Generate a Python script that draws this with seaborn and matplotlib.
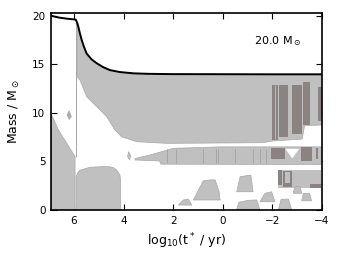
import numpy as np
import pandas as pd
import seaborn as sns
import matplotlib.pyplot as plt

# total (surface) mass of the star vs log10 of time left to collapse
surf_logt = [6.93, 6.63, 6.30, 6.10, 5.93, 5.87, 5.83, 5.76, 5.69, 5.60, 5.49, 5.29,
             5.08, 4.82, 4.55, 4.14, 3.60, 3.00, 2.10, 0.0, -2.0, -4.0]
surf_mass = [20.0, 19.82, 19.70, 19.65, 19.60, 19.24, 18.9, 18.15, 17.5, 16.8, 16.1, 15.5,
             15.1, 14.7, 14.4, 14.2, 14.07, 14.02, 13.99, 13.98, 13.97, 13.97]

# convective H-burning core (main sequence)
hcore_logt = [6.93, 6.93, 6.63, 6.29, 5.96, 5.96]
hcore_mass = [0.0, 9.95, 8.23, 6.87, 5.49, 0.0]

# convective He-burning core
hecore_logt = [5.92, 5.92, 5.85, 5.76, 5.35, 4.80, 4.55, 4.40, 4.28, 4.15, 4.12, 4.12]
hecore_mass = [0.0, 3.43, 3.85, 4.10, 4.40, 4.47, 4.45, 4.35, 4.10, 3.60, 3.00, 0.0]

# bottom of the convective envelope (top is the surface)
env_logt = [5.87, 5.87, 5.76, 5.49, 5.08, 4.68, 4.35, 4.08, 3.47, 2.26, -1.60, -2.00, -3.20, -3.30, -4.00]
env_mass = [19.24, 13.72, 13.38, 11.66, 10.63, 9.60, 8.23, 7.54, 7.03, 6.86, 6.93, 7.10, 7.30, 8.70, 8.75]

# dark (semiconvective) stripes inside the envelope
dark_env_left = [-1.97, -2.27, -2.78, -3.23, -3.84]
dark_env_right = [-2.21, -2.64, -3.18, -3.52, -3.99]
dark_env_bottom = [7.2, 7.5, 7.8, 8.8, 9.2]
dark_env_top = [12.9, 12.9, 12.9, 13.2, 12.7]

# intermediate shell (band at ~5-6.5 Msun)
band2_logt = [3.54, 2.94, 2.00, 0.10, -4.00, -4.00, 2.50, 2.55, 3.54]
band2_mass = [5.30, 5.66, 6.35, 6.50, 6.50, 4.68, 4.72, 5.05, 5.15]
dark_b2_left = [-1.95, -3.15, -3.75]
dark_b2_right = [-2.50, -3.60, -3.85]
dark_b2_bottom = [5.20, 5.00, 5.20]
dark_b2_top = [6.40, 6.45, 6.40]
hole_b2_logt = [-2.52, -3.08, -2.80]
hole_b2_mass = [6.30, 6.30, 5.30]

# deeper shell (~2.3-4.1 Msun), late phases
band3_left, band3_right = -2.24, -3.97
band3_bottom, band3_top = 2.30, 4.15
dark_b3_left = [-2.24, -2.42, -3.50]
dark_b3_right = [-2.40, -2.80, -3.97]
dark_b3_bottom = [2.60, 2.40, 2.30]
dark_b3_top = [4.15, 4.05, 2.70]
inner_b3_logt = [-2.50, -2.72]
inner_b3_mass = [2.80, 3.90]

# small shell burning episodes near the bottom
blob_a_logt = [1.19, 0.79, 0.50, 0.31, 0.15, 0.11]
blob_a_mass = [1.03, 3.00, 3.10, 3.10, 1.90, 1.03]
blob_b_logt = [-0.56, -0.70, -1.13, -1.22]
blob_b_mass = [1.88, 3.43, 3.60, 1.88]
blob_c_logt = [1.79, 1.59, 1.39, 1.25]
blob_c_mass = [0.51, 1.03, 1.13, 0.51]
blob_d_logt = [-0.55, -0.65, -1.03, -1.37, -1.50]
blob_d_mass = [0.00, 0.80, 1.00, 1.03, 0.00]
blob_e_logt = [-1.50, -1.70, -1.97, -2.10]
blob_e_mass = [0.85, 1.72, 1.88, 0.85]
blob_f_logt = [-2.24, -2.35, -2.65, -2.78]
blob_f_mass = [0.00, 1.10, 1.13, 0.00]
blob_g_logt = [-3.18, -3.25, -3.50, -3.58]
blob_g_mass = [0.95, 1.72, 1.72, 0.95]
blob_h_logt = [-2.84, -2.90, -3.12, -3.18]
blob_h_mass = [1.72, 2.40, 2.40, 1.72]
blob_i_logt = [3.84, 3.80, 3.72, 3.76]
blob_i_mass = [5.50, 6.00, 5.60, 5.15]
speck_logt = [6.30, 6.20, 6.09, 6.20]
speck_mass = [9.80, 10.30, 9.60, 9.25]

# faint vertical streaks in the middle shell
streak_logt = [2.25, 1.9, 0.8, 0.26, 0.2, -0.5, -1.2, -1.5, -1.75]

light = '#c0c0c0'
dark = '#8b8282'
edge = '#a8a8a8'

sns.set_style("ticks", {"xtick.direction": "in", "ytick.direction": "in",
                        "axes.edgecolor": "black", "text.color": "black",
                        "axes.labelcolor": "black", "xtick.color": "black",
                        "ytick.color": "black"})
plt.rcParams['font.family'] = ['DejaVu Sans']

fig = plt.figure(figsize=(3.39, 2.54), dpi=100)
ax = fig.add_axes([0.1504, 0.1732, 0.7994, 0.7744])

ax.fill(hcore_logt, hcore_mass, color=light, ec=edge, lw=0.5)
ax.fill(hecore_logt, hecore_mass, color=light, ec=edge, lw=0.5)

# envelope polygon: surface on top, base reversed underneath
top_x = [x for x in surf_logt if x <= 5.87]
top_y = [m for x, m in zip(surf_logt, surf_mass) if x <= 5.87]
ax.fill(top_x + env_logt[::-1], top_y + env_mass[::-1], color=light, ec=edge, lw=0.5)
for l, r, b, t in zip(dark_env_left, dark_env_right, dark_env_bottom, dark_env_top):
    ax.fill_between([l, r], b, t, color=dark, lw=0)
ax.vlines([-2.09], 7.3, 12.9, color=light, lw=0.6)

ax.fill(band2_logt, band2_mass, color=light, ec=edge, lw=0.5)
for l, r, b, t in zip(dark_b2_left, dark_b2_right, dark_b2_bottom, dark_b2_top):
    ax.fill_between([l, r], b, t, color=dark, lw=0)
ax.fill(hole_b2_logt, hole_b2_mass, color='white', lw=0)
ax.vlines(streak_logt, 4.8, 6.3, color='#a4a0a0', lw=0.6)

ax.fill_between([band3_left, band3_right], band3_bottom, band3_top, color=light, lw=0)
for l, r, b, t in zip(dark_b3_left, dark_b3_right, dark_b3_bottom, dark_b3_top):
    ax.fill_between([l, r], b, t, color=dark, lw=0)
ax.fill_between(inner_b3_logt, inner_b3_mass[0], inner_b3_mass[1], color=light, lw=0)

for bx, by in [(blob_a_logt, blob_a_mass), (blob_b_logt, blob_b_mass), (blob_c_logt, blob_c_mass),
               (blob_d_logt, blob_d_mass), (blob_e_logt, blob_e_mass), (blob_f_logt, blob_f_mass),
               (blob_g_logt, blob_g_mass), (blob_h_logt, blob_h_mass), (blob_i_logt, blob_i_mass)]:
    ax.fill(bx, by, color=light, ec=edge, lw=0.5)
ax.fill(speck_logt, speck_mass, color='#b0acac', lw=0)

# thin boundary line left over from the end of core H burning
ax.vlines([5.93], 5.5, 19.6, color=edge, lw=0.7)

sns.lineplot(x=surf_logt, y=surf_mass, color='k', lw=1.4, ax=ax, sort=False, estimator=None)

ax.set_xlim(6.93, -4)
ax.set_ylim(0, 20.25)
ax.set_xticks([6, 4, 2, 0, -2, -4])
ax.set_yticks([0, 5, 10, 15, 20])
ax.tick_params(top=True, right=True, labelsize=7.5, length=4, width=0.8, pad=4)
for s in ax.spines.values():
    s.set_linewidth(1.2)

ax.set_xlabel(r'log$_{10}$(t$^*$ / yr)', fontsize=9)
ax.set_ylabel(r'Mass / M$_\odot$', fontsize=9, labelpad=7)
ax.text(0.749, 0.858, r'20.0 M$_\odot$', transform=ax.transAxes, fontsize=8, va='center')

fig.savefig('out.png', dpi=100)
